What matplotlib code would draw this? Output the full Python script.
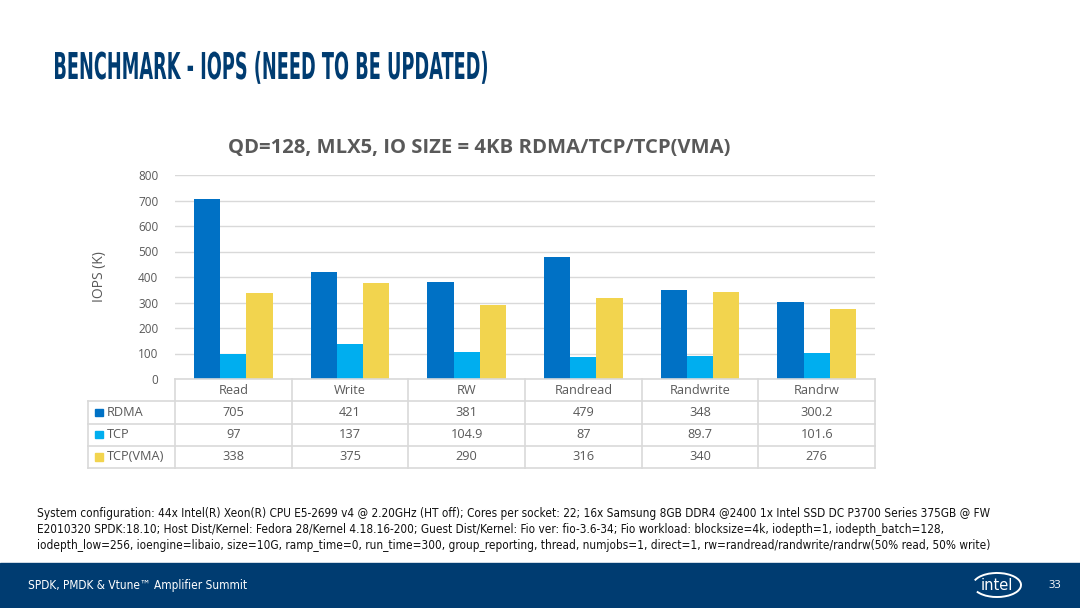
import matplotlib.pyplot as plt
import numpy as np
from matplotlib.patches import Rectangle, Arc, PathPatch
from matplotlib.textpath import TextPath
from matplotlib.font_manager import FontProperties
from matplotlib.transforms import Affine2D, IdentityTransform

categories = ['Read', 'Write', 'RW', 'Randread', 'Randwrite', 'Randrw']
series = ['RDMA', 'TCP', 'TCP(VMA)']
rdma = [705, 421, 381, 479, 348, 300.2]
tcp = [97, 137, 104.9, 87, 89.7, 101.6]
vma = [338, 375, 290, 316, 340, 276]
labels_rdma = ['705', '421', '381', '479', '348', '300.2']
labels_tcp = ['97', '137', '104.9', '87', '89.7', '101.6']
labels_vma = ['338', '375', '290', '316', '340', '276']
colors = ['#0071C5', '#00AEEF', '#F2D44E']
yticks = [0, 100, 200, 300, 400, 500, 600, 700, 800]

plt.rcParams['font.family'] = ['Open Sans', 'DejaVu Sans']
gray = '#595959'
line_gray = '#D9D9D9'

W, H = 1080, 608
fig = plt.figure(figsize=(10.8, 6.08), dpi=100)

# slide title, squeezed horizontally to mimic the condensed Intel font
title = 'BENCHMARK - IOPS (NEED TO BE UPDATED)'
tp = TextPath((0, 0), title, size=37, prop=FontProperties(family='DejaVu Sans', weight='bold'))
ext = tp.get_extents()
sx = 432 / ext.width
tr = Affine2D().translate(-ext.x0, 0).scale(sx, 1.0).translate(55, H - 79)
fig.add_artist(PathPatch(tr.transform_path(tp), color='#003C71', lw=0,
                         transform=IdentityTransform()))

# chart area
ax = fig.add_axes([175 / W, 1 - 379 / H, 700 / W, 204 / H])
x = np.arange(len(categories))
bw = 0.225
for i, (vals, c) in enumerate(zip([rdma, tcp, vma], colors)):
    ax.bar(x + (i - 1) * bw, vals, bw, color=c, zorder=3)
ax.set_xlim(-0.5, len(categories) - 0.5)
ax.set_ylim(0, 800)
ax.set_yticks(yticks)
ax.set_xticks([])
ax.tick_params(axis='y', length=0, labelsize=8.5, labelcolor=gray, pad=12)
ax.yaxis.grid(True, color=line_gray, lw=1.0, zorder=0)
for s in ax.spines.values():
    s.set_visible(False)
ax.set_ylabel('IOPS (K)', fontsize=10, color=gray, labelpad=22)
ax.set_title('QD=128, MLX5, IO SIZE = 4KB RDMA/TCP/TCP(VMA)', fontsize=14.6,
             fontweight='bold', color=gray, pad=16, x=(479 - 175) / 700)

# data table under the chart (pixel-like coordinates: columns of the chart axis)
tax = fig.add_axes([88 / W, 1 - 468 / H, 787 / W, 89 / H])
label_w = 87 / (700 / len(categories))  # width of the row-label column in category units
tax.set_xlim(-0.5 - label_w, len(categories) - 0.5)
tax.set_ylim(len(series) + 0.5, -0.5)
tax.axis('off')
ncol = len(categories)
lkw = dict(color=line_gray, lw=1.2, clip_on=False)
for r in range(len(series) + 2):
    tax.plot([-0.5 - label_w if r >= 1 else -0.5, ncol - 0.5], [r - 0.5, r - 0.5], **lkw)
for cidx in range(ncol + 1):
    tax.plot([cidx - 0.5, cidx - 0.5], [-0.5, len(series) + 0.5], **lkw)
tax.plot([-0.5 - label_w] * 2, [0.5, len(series) + 0.5], **lkw)
for j, cat in enumerate(categories):
    tax.text(j, 0, cat, ha='center', va='center', fontsize=9.2, color=gray)
rows = [labels_rdma, labels_tcp, labels_vma]
for r, (name, vals, c) in enumerate(zip(series, rows, colors)):
    yy = r + 1
    tax.add_patch(Rectangle((-0.5 - label_w + 0.06, yy - 0.17), 0.068, 0.34, color=c,
                            clip_on=False))
    tax.text(-0.5 - label_w + 0.16, yy, name, ha='left', va='center', fontsize=9.2, color=gray)
    for j, v in enumerate(vals):
        tax.text(j, yy, v, ha='center', va='center', fontsize=9.2, color=gray)

# system configuration note
note = [
    'System configuration: 44x Intel(R) Xeon(R) CPU E5-2699 v4 @ 2.20GHz (HT off); Cores per socket: 22; 16x Samsung 8GB DDR4 @2400 1x Intel SSD DC P3700 Series 375GB @ FW',
    'E2010320 SPDK:18.10; Host Dist/Kernel: Fedora 28/Kernel 4.18.16-200; Guest Dist/Kernel: Fio ver: fio-3.6-34; Fio workload: blocksize=4k, iodepth=1, iodepth_batch=128,',
    'iodepth_low=256, ioengine=libaio, size=10G, ramp_time=0, run_time=300, group_reporting, thread, numjobs=1, direct=1, rw=randread/randwrite/randrw(50% read, 50% write)',
]
for k, line in enumerate(note):
    fig.text(37 / W, 1 - (513 + k * 16.5) / H, line, fontsize=8.45, color='#111111',
             family='DejaVu Sans', stretch='condensed', va='center')

# footer band
fig.patches.append(Rectangle((0, 0), 1, 45 / H, color='#003C71', transform=fig.transFigure,
                             figure=fig))
fig.text(28 / W, 1 - 585 / H, 'SPDK, PMDK & Vtune\u2122 Amplifier Summit', fontsize=8.5,
         color='white', va='center', family='DejaVu Sans', stretch='condensed')
fig.text(1055 / W, 1 - 585 / H, '33', fontsize=8, color='white', va='center', ha='center')
fig.text(997 / W, 1 - 586 / H, 'intel', fontsize=10.5, color='white', va='center', ha='center',
         family='DejaVu Sans')
fig.patches.append(Arc((997 / W, 1 - 585 / H), 48 / W, 24 / H, theta1=-150, theta2=160,
                       ec='white', lw=1.4, transform=fig.transFigure, figure=fig))

fig.savefig('out.png', dpi=100)
